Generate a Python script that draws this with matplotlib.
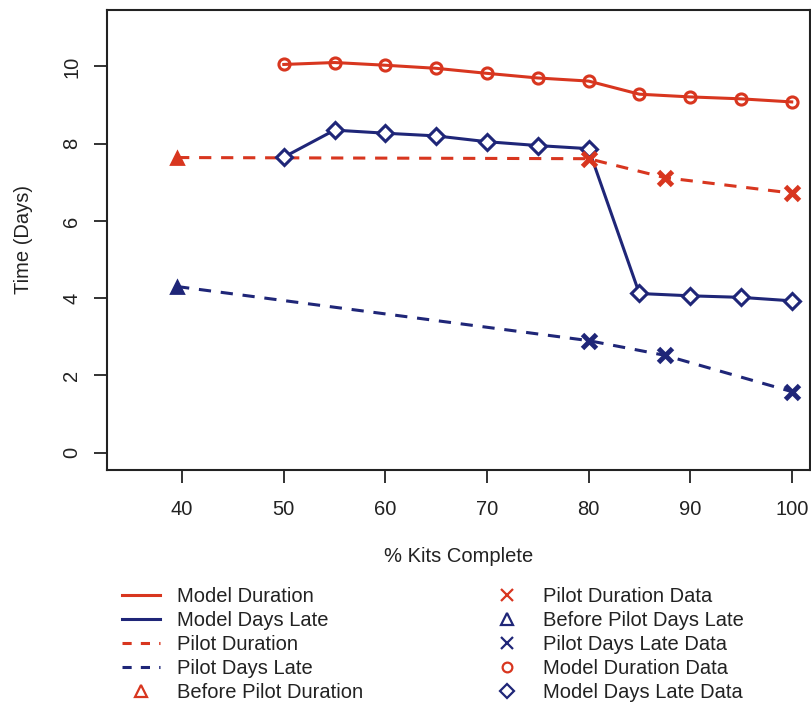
import matplotlib.pyplot as plt
import numpy as np

plt.rcParams['font.family'] = ['Liberation Sans', 'DejaVu Sans']

red = '#d8361f'
blue = '#1f2678'
ink = '#222222'

# model runs, every 5 % of kits complete
model_x = [50, 55, 60, 65, 70, 75, 80, 85, 90, 95, 100]
model_duration = [10.05, 10.1, 10.03, 9.95, 9.82, 9.7, 9.62, 9.28, 9.21, 9.16, 9.08]
model_days_late = [7.65, 8.35, 8.27, 8.2, 8.05, 7.95, 7.87, 4.12, 4.06, 4.02, 3.93]

# pilot estimates
before_x = [39.5]
before_duration = [7.64]
before_days_late = [4.3]
pilot_x = [80, 87.5, 100]
pilot_duration = [7.61, 7.12, 6.72]
pilot_days_late = [2.9, 2.52, 1.58]

xticks = [40, 50, 60, 70, 80, 90, 100]
yticks = [0, 2, 4, 6, 8, 10]

fig = plt.figure(figsize=(8.12, 7.05), dpi=100)
ax = fig.add_axes([107 / 812, 235 / 705, 703 / 812, 460 / 705])

lw = 2.2
dash = (0, (4, 3.2))

ax.plot(model_x, model_duration, color=red, lw=lw)
ax.plot(model_x, model_days_late, color=blue, lw=lw)
ax.plot(before_x + pilot_x, before_duration + pilot_duration, color=red, lw=lw, linestyle=dash)
ax.plot(before_x + pilot_x, before_days_late + pilot_days_late, color=blue, lw=lw, linestyle=dash)

ax.plot(model_x, model_duration, 'o', ms=8, mfc='none', mec=red, mew=2.2)
ax.plot(model_x, model_days_late, 'D', ms=8, mfc='white', mec=blue, mew=2.2)
ax.plot(pilot_x, pilot_duration, 'x', ms=10, mec=red, mew=3.5)
ax.plot(pilot_x, pilot_days_late, 'x', ms=10, mec=blue, mew=3.5)
ax.plot(before_x, before_duration, '^', ms=9, mfc=red, mec=red, mew=2)
ax.plot(before_x, before_days_late, '^', ms=9, mfc=blue, mec=blue, mew=2)

ax.set_xlim(32.6, 101.8)
ax.set_ylim(-0.45, 11.46)
ax.set_xticks(xticks)
ax.set_yticks(yticks)
ax.tick_params(length=9.5, width=1.3, color=ink, labelsize=14.5, labelcolor=ink, pad=12)
ax.tick_params(axis='y', labelrotation=90, pad=9)
for lab in ax.get_yticklabels():
    lab.set_va('center')
for sp in ax.spines.values():
    sp.set_linewidth(1.5)
    sp.set_color(ink)

ax.set_xlabel('% Kits Complete', fontsize=14.5, color=ink, labelpad=20)
ax.set_ylabel('Time (Days)', fontsize=14.5, color=ink, labelpad=21)

# legend, two columns
h1 = [
    plt.Line2D([], [], color=red, lw=2.2),
    plt.Line2D([], [], color=blue, lw=2.2),
    plt.Line2D([], [], color=red, lw=2.2, linestyle=(0, (3, 3))),
    plt.Line2D([], [], color=blue, lw=2.2, linestyle=(0, (3, 3))),
    plt.Line2D([], [], marker='^', ls='none', ms=9, mfc='none', mec=red, mew=1.6),
]
l1 = ['Model Duration', 'Model Days Late', 'Pilot Duration', 'Pilot Days Late', 'Before Pilot Duration']
h2 = [
    plt.Line2D([], [], marker='x', ls='none', ms=8, mec=red, mew=1.6),
    plt.Line2D([], [], marker='^', ls='none', ms=9, mfc='none', mec=blue, mew=1.6),
    plt.Line2D([], [], marker='x', ls='none', ms=8, mec=blue, mew=1.6),
    plt.Line2D([], [], marker='o', ls='none', ms=7, mfc='none', mec=red, mew=1.6),
    plt.Line2D([], [], marker='D', ls='none', ms=7, mfc='none', mec=blue, mew=1.6),
]
l2 = ['Pilot Duration Data', 'Before Pilot Days Late', 'Pilot Days Late Data',
      'Model Duration Data', 'Model Days Late Data']

for handles, labels, x0 in [(h1, l1, 122), (h2, l2, 488)]:
    leg = fig.legend(handles, labels, loc='upper left', bbox_to_anchor=(x0 / 812, 1 - 587 / 705),
                     frameon=False, fontsize=14.5, borderpad=0, handlelength=1.9,
                     handletextpad=0.85, labelspacing=0.25, borderaxespad=0)
    for t in leg.get_texts():
        t.set_color(ink)

fig.savefig('out.png', dpi=100)
